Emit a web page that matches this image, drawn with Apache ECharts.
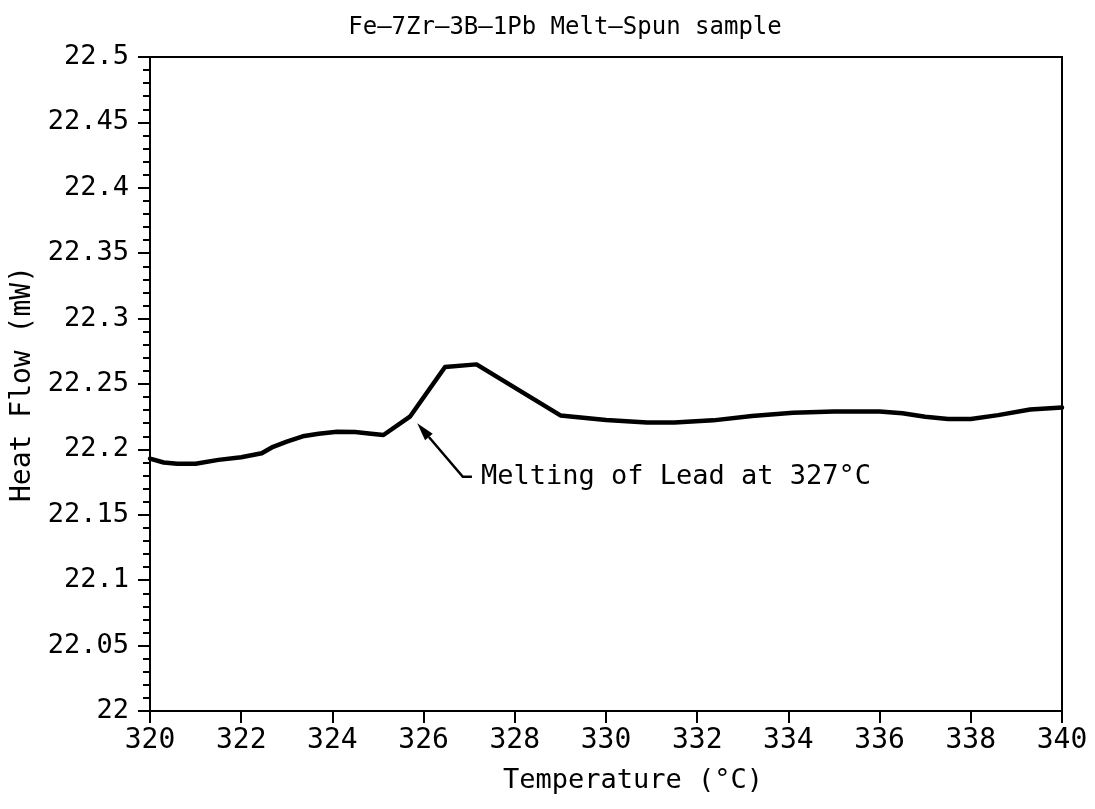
<!DOCTYPE html>
<html>
<head>
<meta charset="utf-8">
<script src="https://cdn.jsdelivr.net/npm/echarts@6/dist/echarts.min.js"></script>
<style>
html,body{margin:0;padding:0;background:#fff;}
#chart{width:1095px;height:809px;}
</style>
</head>
<body>
<div id="chart"></div>
<script>
// Data
var temperature = [320.0, 320.3, 320.6, 321.0, 321.5, 322.0, 322.45, 322.7, 323.0, 323.35, 323.7, 324.1, 324.5, 324.85, 325.12, 325.7, 326.47, 327.16, 329.0, 330.0, 330.9, 331.5, 332.35, 333.2, 334.1, 335.0, 336.0, 336.5, 337.0, 337.5, 338.0, 338.6, 339.3, 340.0];
var heatFlow = [22.193, 22.190, 22.189, 22.189, 22.192, 22.194, 22.197, 22.202, 22.206, 22.210, 22.212, 22.2135, 22.2133, 22.212, 22.211, 22.225, 22.263, 22.265, 22.226, 22.2225, 22.2205, 22.2205, 22.2222, 22.2255, 22.228, 22.229, 22.229, 22.2276, 22.225, 22.2233, 22.2232, 22.2262, 22.2305, 22.232];
var xTicks = [320, 322, 324, 326, 328, 330, 332, 334, 336, 338, 340];
var yTicks = [22, 22.05, 22.1, 22.15, 22.2, 22.25, 22.3, 22.35, 22.4, 22.45, 22.5];
var titleText = 'Fe\u20137Zr\u20133B\u20131Pb Melt\u2013Spun sample';
var annotationText = 'Melting of Lead at 327\u00B0C';
// annotation leader (data coords): arrow tip, elbow, end of horizontal stub
var annTip = [325.86, 22.220];
var annElbow = [326.86, 22.179];
var annEnd = [327.06, 22.179];

var mono = '"DejaVu Sans Mono", monospace';
var chart = echarts.init(document.getElementById('chart'), null, {renderer: 'canvas'});
var seriesData = temperature.map(function (t, i) { return [t, heatFlow[i]]; });

chart.setOption({
  backgroundColor: '#fff',
  animation: false,
  title: {
    text: titleText,
    left: 560, top: 11, textAlign: 'center',
    textStyle: {fontFamily: mono, fontSize: 24, fontWeight: 'normal', color: '#000'}
  },
  grid: {left: 150, right: 33, top: 57, bottom: 98, show: true, borderColor: '#000', borderWidth: 2, backgroundColor: 'transparent'},
  xAxis: {
    type: 'value', min: xTicks[0], max: xTicks[xTicks.length - 1], interval: 2,
    name: 'Temperature (\u00B0C)', nameLocation: 'middle', nameGap: 56,
    nameTextStyle: {fontFamily: mono, fontSize: 27, color: '#000', padding: [0, 0, 0, 54]},
    axisLine: {show: true, lineStyle: {color: '#000', width: 2}},
    axisTick: {show: true, inside: false, length: 12, lineStyle: {color: '#000', width: 2}},
    minorTick: {show: false},
    splitLine: {show: false},
    axisLabel: {fontFamily: mono, fontSize: 28, color: '#000', margin: 16}
  },
  yAxis: {
    type: 'value', min: yTicks[0], max: yTicks[yTicks.length - 1], interval: 0.05,
    name: 'Heat Flow (mW)', nameLocation: 'middle', nameGap: 108, nameRotate: 90,
    nameTextStyle: {fontFamily: mono, fontSize: 28, color: '#000'},
    axisLine: {show: true, lineStyle: {color: '#000', width: 2}},
    axisTick: {show: true, inside: false, length: 12, lineStyle: {color: '#000', width: 2}},
    minorTick: {show: true, splitNumber: 5, length: 7, lineStyle: {color: '#000', width: 2}},
    splitLine: {show: false},
    axisLabel: {fontFamily: mono, fontSize: 27, color: '#000', margin: 21}
  },
  series: [{
    type: 'line',
    data: seriesData,
    showSymbol: false,
    smooth: false,
    lineStyle: {color: '#000', width: 4.5, join: 'round', cap: 'round'},
    itemStyle: {color: '#000'},
    z: 3
  }]
});

function drawAnnotation() {
  var tip = chart.convertToPixel({gridIndex: 0}, annTip);
  var elbow = chart.convertToPixel({gridIndex: 0}, annElbow);
  var end = chart.convertToPixel({gridIndex: 0}, annEnd);
  var dx = tip[0] - elbow[0], dy = tip[1] - elbow[1];
  var len = Math.sqrt(dx * dx + dy * dy);
  var ux = dx / len, uy = dy / len;
  var hl = 18, hw = 5;
  var bx = tip[0] - ux * hl, by = tip[1] - uy * hl;
  var px = -uy, py = ux;
  chart.setOption({
    graphic: [
      {type: 'polyline', shape: {points: [[bx, by], elbow, end]}, style: {stroke: '#000', lineWidth: 2.5, fill: null}, z: 10},
      {type: 'polygon', shape: {points: [tip, [bx + px * hw, by + py * hw], [bx - px * hw, by - py * hw]]}, style: {fill: '#000'}, z: 10},
      {type: 'text', x: end[0] + 9, y: end[1], style: {text: annotationText, font: '27px ' + mono, fill: '#000', textVerticalAlign: 'middle', verticalAlign: 'middle'}, z: 10}
    ]
  });
}
drawAnnotation();
</script>
</body>
</html>
